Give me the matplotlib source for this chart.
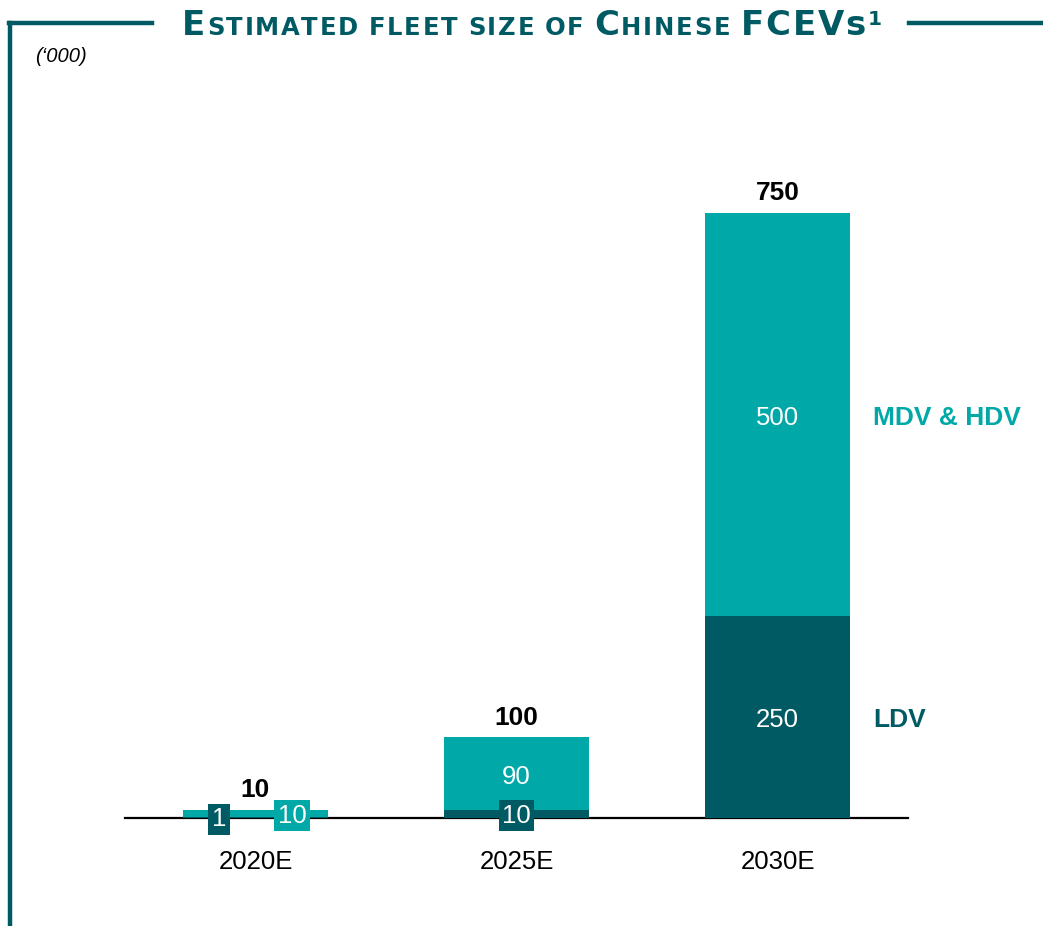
import matplotlib
matplotlib.use("Agg")
import matplotlib.pyplot as plt
from matplotlib.lines import Line2D
import numpy as np

plt.rcParams['font.family'] = ['Liberation Sans', 'DejaVu Sans']

# data ('000 vehicles)
years = ["2020E", "2025E", "2030E"]
ldv = [1, 10, 250]
mdv = [9, 90, 500]
totals = [10, 100, 750]
ldv_labels = ["1", "10", "250"]
mdv_labels = ["10", "90", "500"]
series_names = ["LDV", "MDV & HDV"]

dark = "#005a63"
teal = "#00a9a7"

W, H = 1043, 926
fig = plt.figure(figsize=(W / 100, H / 100), dpi=100)


def fx(px):
    return px / W


def fy(py):
    return 1 - py / H


ax = fig.add_axes([fx(125), 108 / H, 783 / W, 718 / H])
x = np.arange(len(years))
width = 0.555

ax.bar(x, ldv, width, color=dark, zorder=2)
ax.bar(x, mdv, width, bottom=ldv, color=teal, zorder=2)

ax.set_xlim(-0.5, 2.5)
ax.set_ylim(0, 890)
for s in ["left", "right", "top"]:
    ax.spines[s].set_visible(False)
ax.spines["bottom"].set_linewidth(1.6)
ax.spines["bottom"].set_zorder(1)
ax.set_yticks([])
ax.set_xticks(x)
ax.set_xticklabels(years, fontsize=18.5)
ax.tick_params(axis="x", length=0, pad=23)

# totals
for i, t in enumerate(totals):
    ax.annotate(str(t), (x[i], ldv[i] + mdv[i]), xytext=(0, 5.5), textcoords="offset points",
                ha="center", va="bottom", fontsize=19, fontweight="bold", color="black")

# segment labels on bigger bars
for i in [1, 2]:
    if i == 2:
        ax.annotate(ldv_labels[i], (x[i], ldv[i] / 2), xytext=(0, -2.2),
                    textcoords="offset points", ha="center", va="center",
                    fontsize=18.5, color="white", zorder=3)
    ax.annotate(mdv_labels[i], (x[i], ldv[i] + mdv[i] / 2), xytext=(0, -2.2),
                textcoords="offset points", ha="center", va="center",
                fontsize=18.5, color="white", zorder=3)

# boxed labels for tiny segments
box = dict(boxstyle="square,pad=0.14", linewidth=0)
ax.text(x[0] - 0.14, -1.5, ldv_labels[0], ha="center", va="center", fontsize=18.5,
        color="white", zorder=4, bbox=dict(box, facecolor=dark))
ax.text(x[0] + 0.14, 3, mdv_labels[0], ha="center", va="center", fontsize=18.5,
        color="white", zorder=4, bbox=dict(box, facecolor=teal))
ax.text(x[1], 3, ldv_labels[1], ha="center", va="center", fontsize=18.5,
        color="white", zorder=4, bbox=dict(box, facecolor=dark))

# series labels to the right
ax.annotate(series_names[0], (x[2] + 0.365, ldv[2] / 2), xytext=(0, -2.2),
            textcoords="offset points", ha="left", va="center",
            fontsize=19, fontweight="bold", color=dark)
ax.annotate(series_names[1], (x[2] + 0.365, ldv[2] + mdv[2] / 2), xytext=(0, -2.2),
            textcoords="offset points", ha="left", va="center",
            fontsize=19, fontweight="bold", color=teal)

# unit note
fig.text(fx(35), fy(57), "(\u2018000)", fontsize=14.5, style="italic", ha="left", va="center")

# frame lines
lw = 3.2
fig.add_artist(Line2D([fx(10), fx(10)], [fy(23), fy(926)], color=dark, lw=lw))
fig.add_artist(Line2D([fx(8.5), fx(152)], [fy(23), fy(23)], color=dark, lw=lw))
fig.add_artist(Line2D([fx(909), fx(1043)], [fy(23), fy(23)], color=dark, lw=lw))

# small-caps title, letter by letter (reference face is wide, DejaVu is closer)
parts = [("E", 24.5, 0), ("STIMATED FLEET SIZE OF ", 17.5, 0), ("C", 24.5, 0),
         ("HINESE ", 17.5, 0), ("FCEV", 24.5, 0), ("s", 24.5, 0), ("1", 14.5, 10)]
renderer = fig.canvas.get_renderer()
cur = 182
base = 35
track = 1.7
for txt, size, rise in parts:
    for ch in txt:
        if ch == " ":
            cur += 0.3 * size * 100 / 72 + track
            continue
        t = fig.text(fx(cur), fy(base) + rise / H, ch, fontsize=size, fontweight="bold",
                     family="DejaVu Sans", color=dark, ha="left", va="baseline")
        cur += t.get_window_extent(renderer=renderer).width + track

fig.savefig("out.png", dpi=100)
